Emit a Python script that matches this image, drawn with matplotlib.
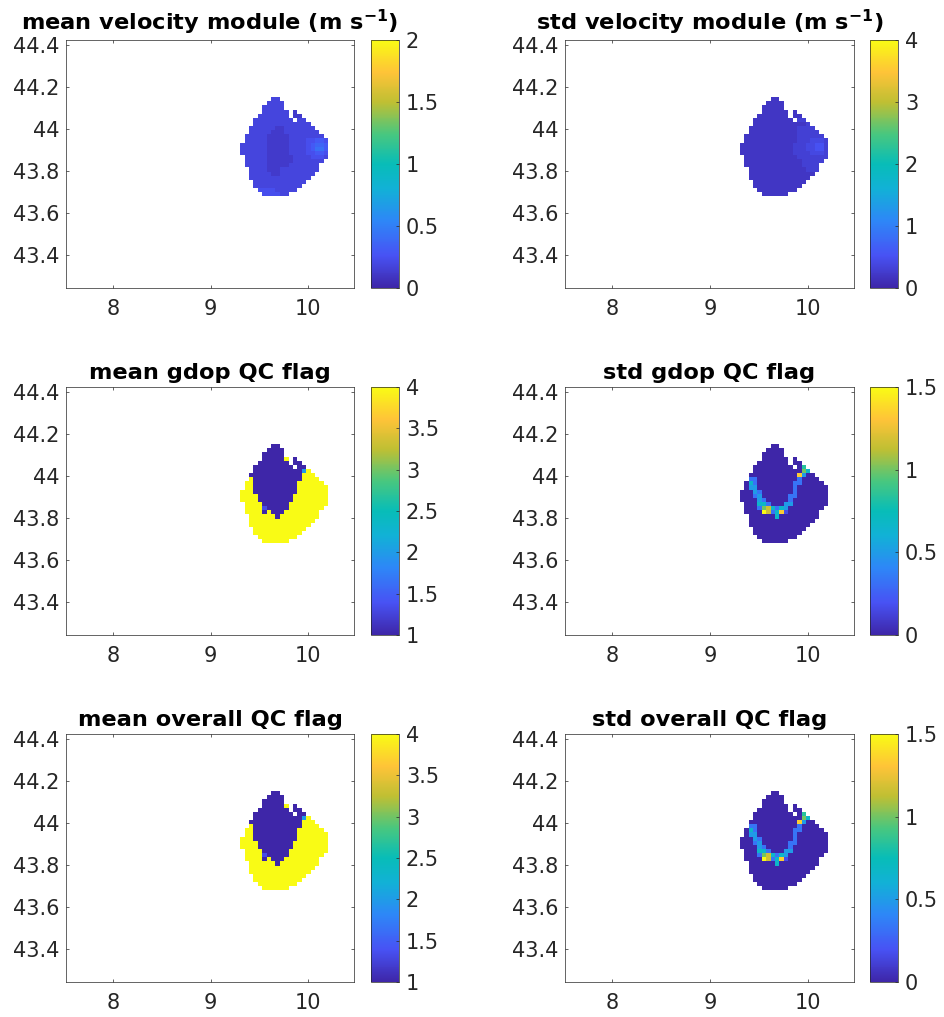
import numpy as np
import matplotlib
matplotlib.use('Agg')
import matplotlib.pyplot as plt
from matplotlib.colors import LinearSegmentedColormap

LON0, DLON = 9.303, 0.0451
LAT_TOP, DLAT = 44.152, 0.0197

mean_vel_rows = [
"       33           ",
"      3333          ",
"     33333          ",
"     333333 2       ",
"    3333333 22      ",
"   333333333 33     ",
"   3333333333333    ",
"  333333223333333   ",
"  3333322233333333  ",
" 333332222233333333 ",
" 3333322222333344554",
"33333322222333345665",
"33333322222333345775",
"33333322222333344554",
" 3333322222233334443",
" 333332222223333333 ",
" 33333222223333333  ",
"  3333222333333333  ",
"  333332233333333   ",
"  33333333333333    ",
"   333333333333     ",
"   33333333333      ",
"    444433333       ",
"     444433         ",
]
std_vel_rows = [
"       22           ",
"      2222          ",
"     22222          ",
"     222222 2       ",
"    2222222 22      ",
"   222222222 33     ",
"   2222222222223    ",
"  222222222223333   ",
"  2222222222233333  ",
" 222222222222333333 ",
" 2222222222223334443",
"22222222222233344553",
"22222222222233344553",
"22222222222233334443",
" 2222222222223333333",
" 222222222222233333 ",
" 22222222222223333  ",
"  2222222222222333  ",
"  222222222222222   ",
"  22222222222222    ",
"   222222222222     ",
"   22222222222      ",
"    222222222       ",
"     222222         ",
]
mean_flag_rows = [
"       00           ",
"      0000          ",
"     00000          ",
"     000009 0       ",
"    0000000 00      ",
"   000000000 00     ",
"   000000000003" "9" "    ",
"  000000000000999   ",
"  9" "00000000000" "9999" "  ",
" 99" "0000000000" "999999" " ",
" 99" "0000000000" "9999999",
"999" "0000000000" "9999999",
"9999" "00000000" "99999999",
"9999" "00000000" "99999999",
" 9999" "000000" "999999999",
" 9999" "100000" "99999999" " ",
" 9999" "0" "9" "000" "99999999" "  ",
"  999999" "0" "999999999" "  ",
"  999999999999999   ",
"  99999999999999    ",
"   999999999999     ",
"   99999999999      ",
"    999999999       ",
"     999999         ",
]
std_flag_rows = [
"       00           ",
"      0000          ",
"     00000          ",
"     000000 0       ",
"    0000000 00      ",
"   000000000 05     ",
"   000000000006" "4" "    ",
"  00000000000" "8300" "   ",
"  22" "000000000" "2" "0000" "  ",
" 042" "00000000" "22" "00000" " ",
" 033" "00000000" "2" "0000000",
"00032000000020000000",
"00023000000220000000",
"00003200000200000000",
" 0004420003300000000",
" 000267424300000000 ",
" 00009724810000000  ",
"  000000400000000" "0" "  ",
"  000000000000000   ",
"  00000000000000    ",
"   000000000000     ",
"   00000000000      ",
"    000000000       ",
"     000000         ",
]

titles = [r'mean velocity module (m s$^{\mathbf{-1}}$)', r'std velocity module (m s$^{\mathbf{-1}}$)',
          'mean gdop QC flag', 'std gdop QC flag',
          'mean overall QC flag', 'std overall QC flag']
x_ticks = [8, 9, 10]
y_ticks = [43.4, 43.6, 43.8, 44, 44.2, 44.4]
y_labels = ['43.4', '43.6', '43.8', '44', '44.2', '44.4']
cb_ticks = [[0, 0.5, 1, 1.5, 2], [0, 1, 2, 3, 4],
            [1, 1.5, 2, 2.5, 3, 3.5, 4], [0, 0.5, 1, 1.5],
            [1, 1.5, 2, 2.5, 3, 3.5, 4], [0, 0.5, 1, 1.5]]
cb_labels = [['0', '0.5', '1', '1.5', '2'], ['0', '1', '2', '3', '4'],
             ['1', '1.5', '2', '2.5', '3', '3.5', '4'], ['0', '0.5', '1', '1.5'],
             ['1', '1.5', '2', '2.5', '3', '3.5', '4'], ['0', '0.5', '1', '1.5']]
limits = [(0, 2), (0, 4), (1, 4), (0, 1.5), (1, 4), (0, 1.5)]


def decode(rows, scale, offset=0.0):
    out = np.full((len(rows), 20), np.nan)
    for j, r in enumerate(rows):
        for i, ch in enumerate(r.ljust(20)[:20]):
            if ch != ' ':
                out[j, i] = offset + int(ch) * scale
    return np.ma.masked_invalid(out)


fields = [decode(mean_vel_rows, 0.06), decode(std_vel_rows, 0.1),
          decode(mean_flag_rows, 3 / 9, 1.0), decode(std_flag_rows, 1.5 / 9),
          decode(mean_flag_rows, 3 / 9, 1.0), decode(std_flag_rows, 1.5 / 9)]

parula = LinearSegmentedColormap.from_list('parula', [
    (0.00, (0.2422, 0.1504, 0.6603)),
    (0.13, (0.2810, 0.3228, 0.9579)),
    (0.27, (0.1786, 0.5289, 0.9682)),
    (0.40, (0.0689, 0.6948, 0.8394)),
    (0.50, (0.0300, 0.7400, 0.7200)),
    (0.62, (0.2800, 0.7800, 0.5000)),
    (0.75, (0.7500, 0.7500, 0.2000)),
    (0.87, (0.9970, 0.7659, 0.2199)),
    (1.00, (0.9769, 0.9839, 0.0805))], N=256)

W, H = 944, 1017
plt.rcParams['font.family'] = 'DejaVu Sans'
plt.rcParams['mathtext.fontset'] = 'dejavusans'
fig = plt.figure(figsize=(W / 100, H / 100), dpi=100)

lon_edges = LON0 + DLON * np.arange(21)
lat_edges = LAT_TOP - DLAT * np.arange(25)
dark = '#262626'
col_x = [(66, 354, 371, 399), (565, 854, 870, 898)]
row_y = [(40, 288), (387, 635), (734, 982)]


def box(x0, x1, y0, y1):
    return [x0 / W, 1 - y1 / H, (x1 - x0) / W, (y1 - y0) / H]


for k in range(6):
    r, c = k // 2, k % 2
    xa, xb, ca, cb = col_x[c]
    ya, yb = row_y[r]
    ax = fig.add_axes(box(xa, xb, ya, yb))
    vmin, vmax = limits[k]
    m = ax.pcolormesh(lon_edges, lat_edges, fields[k], cmap=parula, vmin=vmin, vmax=vmax)
    ax.set_xlim(7.518, 10.47)
    ax.set_ylim(43.243, 44.424)
    ax.set_xticks(x_ticks)
    ax.set_yticks(y_ticks)
    ax.set_yticklabels(y_labels)
    ax.tick_params(direction='in', length=2.5, width=0.5, top=True, right=True,
                   labelsize=15, colors=dark, pad=8)
    ax.tick_params(axis='y', pad=5)
    for s in ax.spines.values():
        s.set_linewidth(0.5)
        s.set_color(dark)
    ax.set_title(titles[k], fontsize=16.2, fontweight='bold', color='black', pad=6 if r else 7)

    cax = fig.add_axes(box(ca, cb, ya, yb))
    cbar = fig.colorbar(m, cax=cax)
    cbar.set_ticks(cb_ticks[k])
    cbar.set_ticklabels(cb_labels[k])
    cbar.ax.tick_params(direction='in', length=2, width=0.5, labelsize=15,
                        colors=dark, pad=5)
    cbar.outline.set_linewidth(0.5)
    cbar.outline.set_edgecolor(dark)

fig.savefig('out.png', dpi=100)
